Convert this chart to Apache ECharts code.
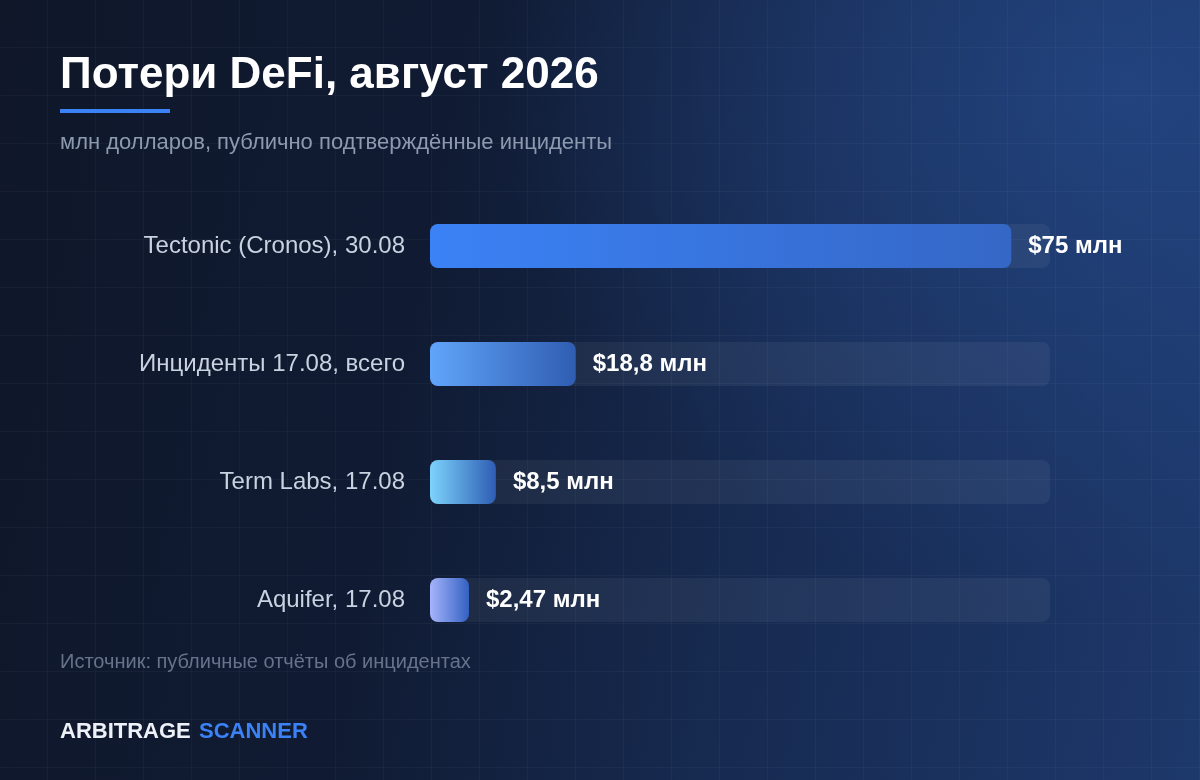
<!DOCTYPE html>
<html>
<head>
<meta charset="utf-8">
<script src="https://cdn.jsdelivr.net/npm/echarts@6/dist/echarts.min.js"></script>
<style>
html,body{margin:0;padding:0;width:1200px;height:780px;overflow:hidden;}
#bg{position:absolute;left:0;top:0;width:1200px;height:780px;
background:
 radial-gradient(ellipse 620px 520px at 1120px 90px, rgba(40,80,150,0.55), rgba(40,80,150,0) 100%),
 linear-gradient(100deg, #0f1729 0%, #101b33 35%, #172b52 65%, #1d386b 100%);}
#grid{position:absolute;left:0;top:0;width:1200px;height:780px;
background-image:
 linear-gradient(to right, rgba(255,255,255,0.03) 1px, transparent 1px),
 linear-gradient(to bottom, rgba(255,255,255,0.03) 1px, transparent 1px);
background-size:48px 48px;background-position:47px 47px;}
#chart{position:absolute;left:0;top:0;width:1200px;height:780px;}
</style>
</head>
<body>
<div id="bg"></div>
<div id="grid"></div>
<div id="chart"></div>
<script>
const categories = ['Tectonic (Cronos), 30.08', 'Инциденты 17.08, всего', 'Term Labs, 17.08', 'Aquifer, 17.08'];
const values = [75, 18.8, 8.5, 2.47];
const gradientStart = ['#3b82f6', '#60a5fa', '#7dd3fc', '#a5b4fc'];
const gradientEnd = ['#3567c6', '#2f5db2', '#2e5db4', '#3461c2'];
const axisMax = 80;

const FONT = '"Liberation Sans", Arial, Helvetica, sans-serif';
const chart = echarts.init(document.getElementById('chart'), null, {renderer: 'canvas'});

const data = values.map((v, i) => ({
  value: v,
  itemStyle: {
    color: new echarts.graphic.LinearGradient(0, 0, 1, 0, [
      {offset: 0, color: gradientStart[i]},
      {offset: 1, color: gradientEnd[i]}
    ])
  }
}));

chart.setOption({
  backgroundColor: 'transparent',
  animation: false,
  grid: {left: 430, right: 150, top: 187, bottom: 121, containLabel: false},
  xAxis: {type: 'value', min: 0, max: axisMax, show: false},
  yAxis: {
    type: 'category', data: categories, inverse: true,
    axisLine: {show: false}, axisTick: {show: false}, splitLine: {show: false},
    axisLabel: {color: '#c9d2e0', fontSize: 24, fontFamily: FONT, margin: 25}
  },
  series: [{
    type: 'bar',
    data: data,
    barWidth: 44,
    barMinHeight: 39,
    showBackground: true,
    backgroundStyle: {color: 'rgba(255,255,255,0.055)', borderRadius: 8},
    itemStyle: {borderRadius: 8},
    label: {
      show: true, position: 'right', distance: 17,
      color: '#ffffff', fontSize: 24, fontWeight: 'bold', fontFamily: FONT,
      formatter: p => '$' + String(p.value).replace('.', ',') + ' млн'
    }
  }],
  graphic: [
    {type: 'text', left: 60, top: 54, style: {text: 'Потери DeFi, август 2026', fill: '#ffffff', font: 'bold 44px ' + FONT}},
    {type: 'rect', left: 60, top: 109, shape: {width: 110, height: 4}, style: {fill: '#3b82f6'}},
    {type: 'text', left: 60, top: 132, style: {text: 'млн долларов, публично подтверждённые инциденты', fill: '#8c99ae', font: '22px ' + FONT}},
    {type: 'text', left: 60, top: 652, style: {text: 'Источник: публичные отчёты об инцидентах', fill: '#66738a', font: '20px ' + FONT}},
    {type: 'text', left: 60, top: 721, style: {text: 'ARBITRAGE', fill: '#eef2f8', font: 'bold 22px ' + FONT}},
    {type: 'text', left: 199, top: 721, style: {text: 'SCANNER', fill: '#3b82f6', font: 'bold 22px ' + FONT}}
  ]
});
</script>
</body>
</html>
